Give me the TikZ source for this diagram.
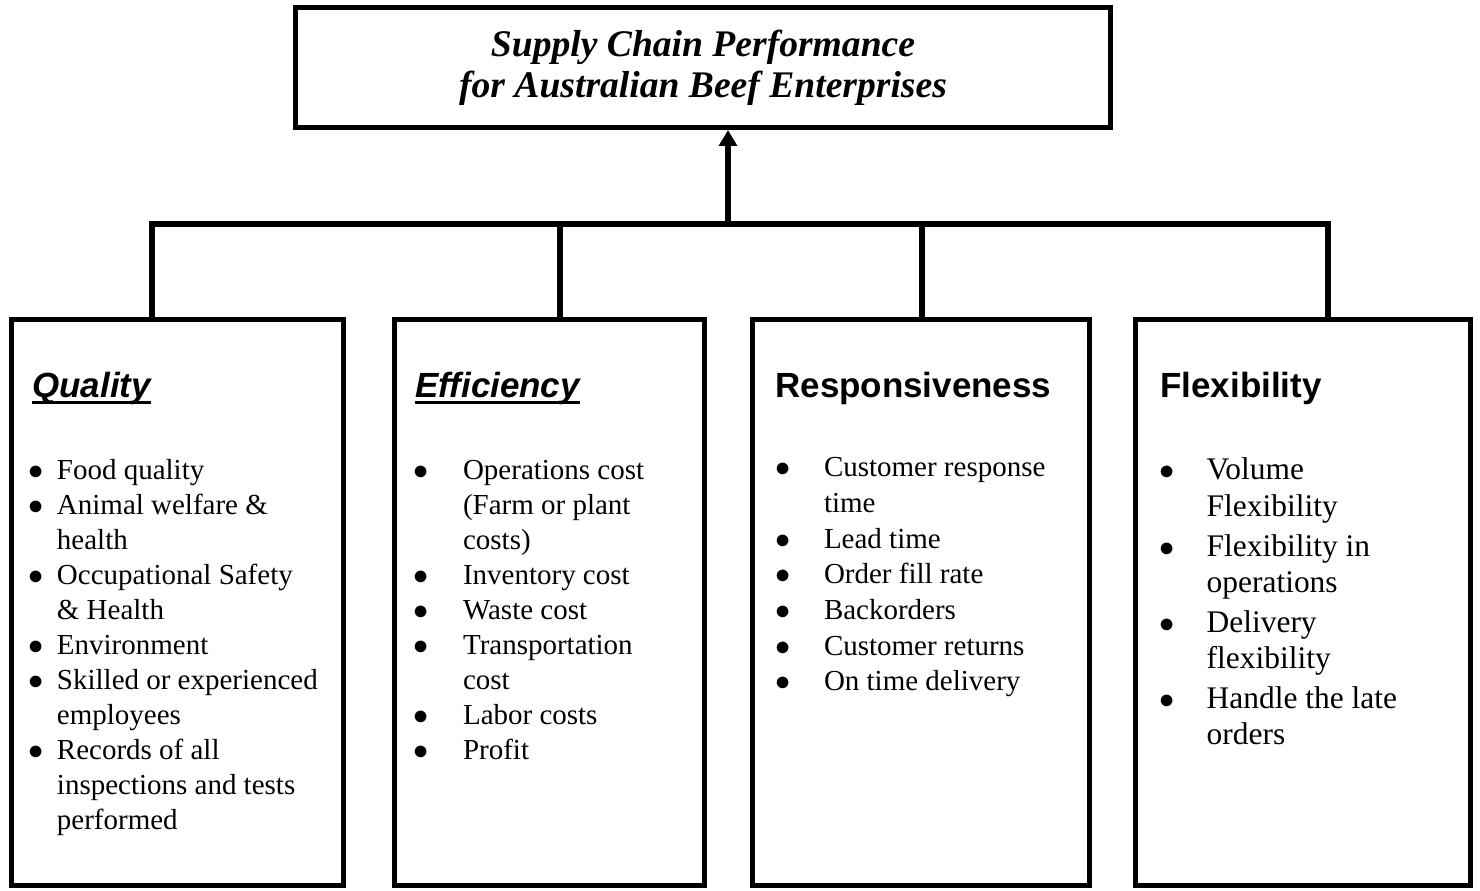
\documentclass[tikz,border=0pt]{standalone}
\usepackage{fontspec}
\setmainfont{Liberation Serif}
\setsansfont{Liberation Sans}
\usetikzlibrary{positioning,arrows.meta}

\newcommand{\undl}[1]{\setbox0\hbox{#1}\rlap{\rule[-3.6pt]{\wd0}{1.8pt}}\box0}
\newcommand{\bu}{$\bullet$}

\tikzset{
  box/.style={draw, line width=2.9pt, inner sep=0pt, minimum height=11.32cm},
  head/.style={inner sep=0pt, font=\sffamily\bfseries\fontsize{19.9}{24}\selectfont},
  items/.style={inner sep=0pt, font=\fontsize{16.5}{19.9}\selectfont},
  wire/.style={line width=2.9pt}
}

\begin{document}
\begin{tikzpicture}[x=0.02cm, y=-0.02cm, >={Triangle[width=10pt,length=9pt]}]
    \useasboundingbox (0,0) rectangle (1480,891);

    \node[box, minimum width=16.3cm, minimum height=2.4cm, align=center,
          font=\bfseries\itshape\fontsize{21.4}{23.3}\selectfont] (goal) at (703,67.5)
          {Supply Chain Performance\\for Australian Beef Enterprises};

    \node[box, minimum width=6.64cm] (qual) at (177.5,602.5) {};
    \node[box, minimum width=6.2cm] (effi) at (549.5,602.5) {};
    \node[box, minimum width=6.74cm] (resp) at (921,602.5) {};
    \node[box, minimum width=6.7cm] (flex) at (1303,602.5) {};

    \node[head, below right=1.62cm and 0.46cm of qual.north west, anchor=base west] (qualhead) {\itshape\undl{Quality}};
    \node[head, below right=1.62cm and 0.46cm of effi.north west, anchor=base west] (effihead) {\itshape\undl{Efficiency}};
    \node[head, below right=1.62cm and 0.5cm of resp.north west, anchor=base west] (resphead) {Responsiveness};
    \node[head, below right=1.62cm and 0.54cm of flex.north west, anchor=base west] (flexhead) {Flexibility};

    \node[items, below right=3.26cm and 0.375cm of qual.north west, anchor=base west] (quallist) {%
      \begin{tabular}[t]{@{}c@{\hspace{7.8pt}}l@{}}
        \bu & Food quality\\
        \bu & Animal welfare \&\\
            & health\\
        \bu & Occupational Safety\\
            & \& Health\\
        \bu & Environment\\
        \bu & Skilled or experienced\\
            & employees\\
        \bu & Records of all\\
            & inspections and tests\\
            & performed
      \end{tabular}};

    \node[items, below right=3.26cm and 0.415cm of effi.north west, anchor=base west] (effilist) {%
      \begin{tabular}[t]{@{}c@{\hspace{19.8pt}}l@{}}
        \bu & Operations cost\\
            & (Farm or plant\\
            & costs)\\
        \bu & Inventory cost\\
        \bu & Waste cost\\
        \bu & Transportation\\
            & cost\\
        \bu & Labor costs\\
        \bu & Profit
      \end{tabular}};

    \node[items, below right=3.2cm and 0.495cm of resp.north west, anchor=base west,
          font=\fontsize{16.5}{20.3}\selectfont] (resplist) {%
      \begin{tabular}[t]{@{}c@{\hspace{19.2pt}}l@{}}
        \bu & Customer response\\
            & time\\
        \bu & Lead time\\
        \bu & Order fill rate\\
        \bu & Backorders\\
        \bu & Customer returns\\
        \bu & On time delivery
      \end{tabular}};

    \node[items, below right=3.26cm and 0.52cm of flex.north west, anchor=base west,
          font=\fontsize{17.9}{20.8}\selectfont] (flexlist) {%
      \begin{tabular}[t]{@{}c@{\hspace{18.3pt}}l@{}}
        \bu & Volume\\
            & Flexibility\\[1.7pt]
        \bu & Flexibility in\\
            & operations\\[1.7pt]
        \bu & Delivery\\
            & flexibility\\[1.7pt]
        \bu & Handle the late\\
            & orders
      \end{tabular}};

    % bus
    \coordinate (d1) at (152,224);
    \coordinate (d2) at (560,224);
    \coordinate (d3) at (922,224);
    \coordinate (d4) at (1328,224);
    \coordinate (up) at (728,224);

    \draw[wire] (qual.north -| d1) |- (d4) -- (flex.north -| d4);
    \draw[wire] (d2) -- (effi.north -| d2);
    \draw[wire] (d3) -- (resp.north -| d3);
    \draw[wire,->] (up) -- (up |- goal.south);
\end{tikzpicture}
\end{document}
